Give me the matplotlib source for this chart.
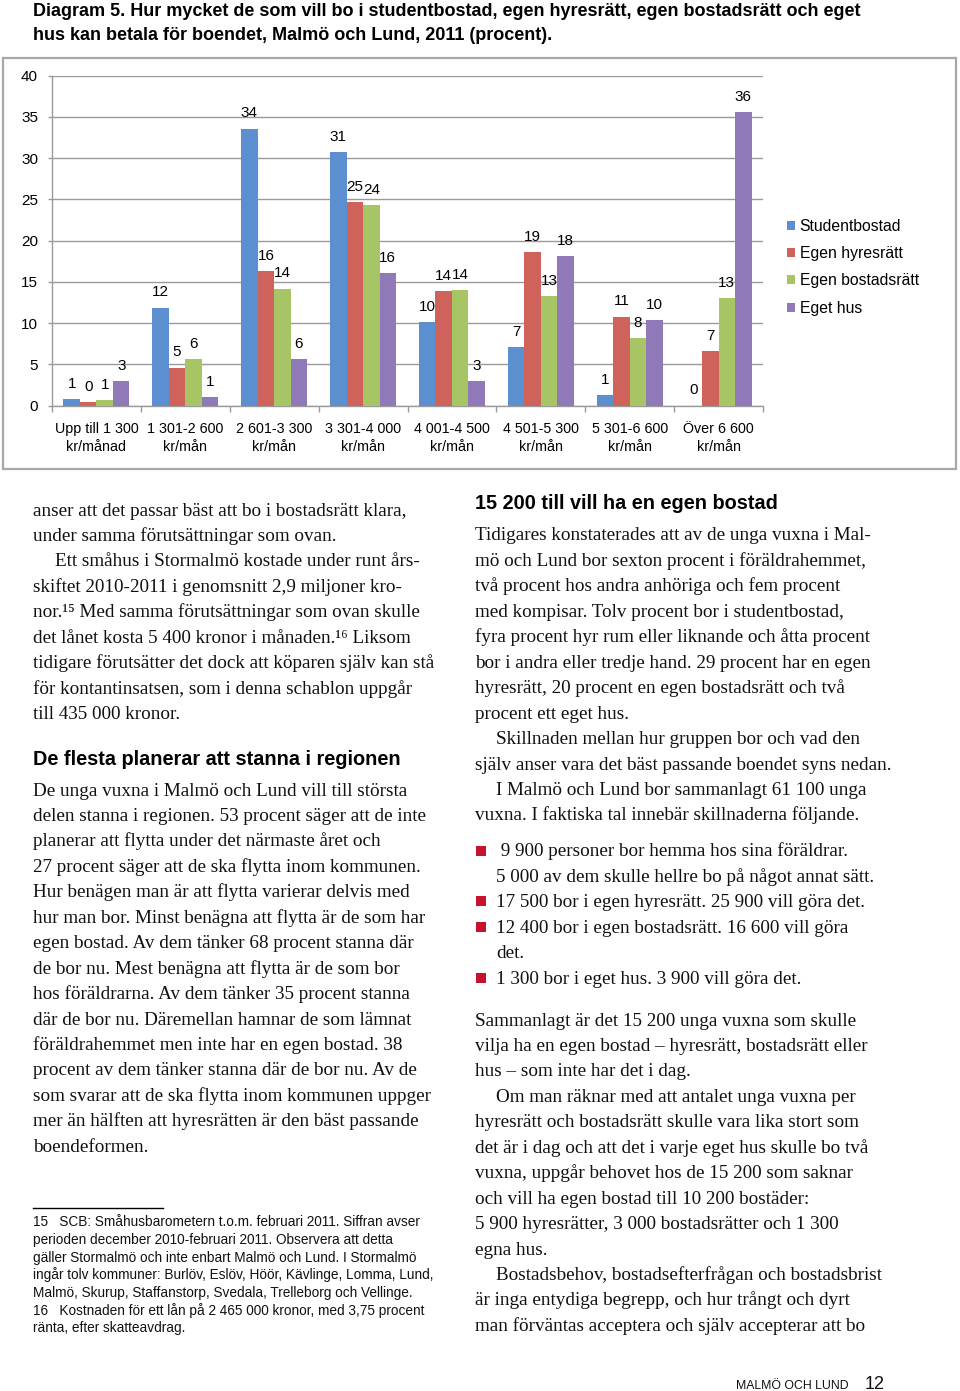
import matplotlib
matplotlib.use("Agg")
import matplotlib.pyplot as plt
from matplotlib.patches import Rectangle, Patch
from matplotlib.lines import Line2D
import numpy as np

# ---------------- data ----------------
categories = ['Upp till 1 300\nkr/månad', '1 301-2 600\nkr/mån', '2 601-3 300\nkr/mån',
              '3 301-4 000\nkr/mån', '4 001-4 500\nkr/mån', '4 501-5 300\nkr/mån',
              '5 301-6 600\nkr/mån', 'Över 6 600\nkr/mån']
series_names = ['Studentbostad', 'Egen hyresrätt', 'Egen bostadsrätt', 'Eget hus']
studentbostad = [0.8, 11.9, 33.6, 30.7, 10.1, 7.1, 1.3, 0.0]
egen_hyresratt = [0.4, 4.6, 16.3, 24.7, 13.9, 18.6, 10.8, 6.6]
egen_bostadsratt = [0.7, 5.6, 14.2, 24.3, 14.0, 13.3, 8.2, 13.0]
eget_hus = [3.0, 1.0, 5.6, 16.1, 3.0, 18.1, 10.4, 35.6]
y_ticks = [0, 5, 10, 15, 20, 25, 30, 35, 40]

title_lines = ["Diagram 5. Hur mycket de som vill bo i studentbostad, egen hyresrätt, egen bostadsrätt och eget",
               "hus kan betala för boendet, Malmö och Lund, 2011 (procent)."]

left_col_a = ["anser att det passar bäst att bo i bostadsrätt klara,",
              "under samma förutsättningar som ovan.",
              "Ett småhus i Stormalmö kostade under runt års-",
              "skiftet 2010-2011 i genomsnitt 2,9 miljoner kro-",
              "nor.¹⁵ Med samma förutsättningar som ovan skulle",
              "det lånet kosta 5 400 kronor i månaden.¹⁶ Liksom",
              "tidigare förutsätter det dock att köparen själv kan stå",
              "för kontantinsatsen, som i denna schablon uppgår",
              "till 435 000 kronor."]
left_heading = "De flesta planerar att stanna i regionen"
left_col_b = ["De unga vuxna i Malmö och Lund vill till största",
              "delen stanna i regionen. 53 procent säger att de inte",
              "planerar att flytta under det närmaste året och",
              "27 procent säger att de ska flytta inom kommunen.",
              "Hur benägen man är att flytta varierar delvis med",
              "hur man bor. Minst benägna att flytta är de som har",
              "egen bostad. Av dem tänker 68 procent stanna där",
              "de bor nu. Mest benägna att flytta är de som bor",
              "hos föräldrarna. Av dem tänker 35 procent stanna",
              "där de bor nu. Däremellan hamnar de som lämnat",
              "föräldrahemmet men inte har en egen bostad. 38",
              "procent av dem tänker stanna där de bor nu. Av de",
              "som svarar att de ska flytta inom kommunen uppger",
              "mer än hälften att hyresrätten är den bäst passande",
              "boendeformen."]
footnotes = ["15   SCB: Småhusbarometern t.o.m. februari 2011. Siffran avser",
             "perioden december 2010-februari 2011. Observera att detta",
             "gäller Stormalmö och inte enbart Malmö och Lund. I Stormalmö",
             "ingår tolv kommuner: Burlöv, Eslöv, Höör, Kävlinge, Lomma, Lund,",
             "Malmö, Skurup, Staffanstorp, Svedala, Trelleborg och Vellinge.",
             "16   Kostnaden för ett lån på 2 465 000 kronor, med 3,75 procent",
             "ränta, efter skatteavdrag."]
right_heading = "15 200 till vill ha en egen bostad"
right_col_a = ["Tidigares konstaterades att av de unga vuxna i Mal-",
               "mö och Lund bor sexton procent i föräldrahemmet,",
               "två procent hos andra anhöriga och fem procent",
               "med kompisar. Tolv procent bor i studentbostad,",
               "fyra procent hyr rum eller liknande och åtta procent",
               "bor i andra eller tredje hand. 29 procent har en egen",
               "hyresrätt, 20 procent en egen bostadsrätt och två",
               "procent ett eget hus.",
               "Skillnaden mellan hur gruppen bor och vad den",
               "själv anser vara det bäst passande boendet syns nedan.",
               "I Malmö och Lund bor sammanlagt 61 100 unga",
               "vuxna. I faktiska tal innebär skillnaderna följande."]
right_indent_a = [8, 10]
bullet_lines = [" 9 900 personer bor hemma hos sina föräldrar.",
                "5 000 av dem skulle hellre bo på något annat sätt.",
                "17 500 bor i egen hyresrätt. 25 900 vill göra det.",
                "12 400 bor i egen bostadsrätt. 16 600 vill göra",
                "det.",
                "1 300 bor i eget hus. 3 900 vill göra det."]
bullet_marks = [0, 2, 3, 5]
right_col_b = ["Sammanlagt är det 15 200 unga vuxna som skulle",
               "vilja ha en egen bostad – hyresrätt, bostadsrätt eller",
               "hus – som inte har det i dag.",
               "Om man räknar med att antalet unga vuxna per",
               "hyresrätt och bostadsrätt skulle vara lika stort som",
               "det är i dag och att det i varje eget hus skulle bo två",
               "vuxna, uppgår behovet hos de 15 200 som saknar",
               "och vill ha egen bostad till 10 200 bostäder:",
               "5 900 hyresrätter, 3 000 bostadsrätter och 1 300",
               "egna hus.",
               "Bostadsbehov, bostadsefterfrågan och bostadsbrist",
               "är inga entydiga begrepp, och hur trångt och dyrt",
               "man förväntas acceptera och själv accepterar att bo"]
right_indent_b = [3, 10]
footer_text = "MALMÖ OCH LUND"
page_number = "12"

# ---------------- figure ----------------
W, H = 960, 1391
fig = plt.figure(figsize=(W / 100, H / 100), dpi=100)
fig.patch.set_facecolor('white')

SANS = ['Liberation Sans', 'DejaVu Sans']
SERIF = ['Liberation Serif', 'DejaVu Serif']

def T(x, y, s, **kw):
    kw.setdefault('va', 'baseline')
    kw.setdefault('ha', 'left')
    return fig.text(x / W, 1 - y / H, s, **kw)

# title
for i, line in enumerate(title_lines):
    T(33, 16 + 24 * i, line, family=SANS, fontsize=13, fontweight='bold', color='black')

# chart frame
fig.patches.append(Rectangle((3 / W, 1 - 469 / H), (956 - 3) / W, (469 - 58) / H,
                             transform=fig.transFigure, fill=False,
                             edgecolor='#a8a8a8', linewidth=1.6))

# axes
ax_l, ax_r, ax_b, ax_t = 52, 763, 405.7, 75.7
ax = fig.add_axes([ax_l / W, 1 - ax_b / H, (ax_r - ax_l) / W, (ax_b - ax_t) / H])
ax.set_facecolor('none')

colors = ['#5b8fcf', '#cf625b', '#a7c565', '#9079b9']
all_series = [studentbostad, egen_hyresratt, egen_bostadsratt, eget_hus]
x = np.arange(len(categories))
bw = 0.186
for k, (vals, col, name) in enumerate(zip(all_series, colors, series_names)):
    pos = x + (k - 1.5) * bw
    ax.bar(pos, vals, width=bw, color=col, label=name, zorder=3)
    for px, v in zip(pos, vals):
        ax.annotate(str(int(v + 0.5)), (px, v), xytext=(0, 11), textcoords='offset points',
                    ha='center', va='center', fontsize=11, family=SANS, color='black', zorder=4)

ax.set_xlim(-0.5, len(categories) - 0.5)
ax.set_ylim(0, 40)
ax.set_yticks(y_ticks)
ax.set_yticklabels([str(t) for t in y_ticks], family=SANS, fontsize=11)
ax.yaxis.grid(True, color='#9a9a9a', linewidth=1.0, zorder=0)
ax.set_axisbelow(True)
ax.tick_params(axis='y', length=3, width=1.0, color='#9a9a9a', pad=7, labelcolor='black')

ax.set_xticks(x)
ax.set_xticklabels(categories, family=SANS, fontsize=10.3, linespacing=1.4)
ax.set_xticks(np.arange(-0.5, len(categories)), minor=True)
ax.tick_params(axis='x', which='major', length=0, pad=11.5)
ax.tick_params(axis='x', which='minor', length=4, width=1.0, color='#9a9a9a')
for s in ['top', 'right']:
    ax.spines[s].set_visible(False)
for s in ['left', 'bottom']:
    ax.spines[s].set_color('#9a9a9a')
    ax.spines[s].set_linewidth(1.0)

# legend
handles = [Patch(facecolor=c, edgecolor='none') for c in colors]
leg = fig.legend(handles, series_names, loc='upper left',
                 bbox_to_anchor=(787 / W, 1 - 219 / H), frameon=False,
                 prop={'family': SANS, 'size': 11.3}, handlelength=0.5, handleheight=0.5,
                 handletextpad=0.3, labelspacing=0.78, borderpad=0, borderaxespad=0)

# ---------------- text columns ----------------
BODY = 13.75
HEAD = 14.3
LS = 25.45
LX, RX = 33, 475

for i, line in enumerate(left_col_a):
    xi = LX + (22 if i == 2 else 0)
    T(xi, 515.5 + LS * i, line, family=SERIF, fontsize=BODY, color='#111111')

T(LX, 765, left_heading, family=SANS, fontsize=HEAD, fontweight='bold', color='black')
for i, line in enumerate(left_col_b):
    T(LX, 795.5 + LS * i, line, family=SERIF, fontsize=BODY, color='#111111')

fig.add_artist(Line2D([33 / W, 163 / W], [1 - 1208 / H, 1 - 1208 / H],
                      transform=fig.transFigure, color='black', linewidth=1.0))
for i, line in enumerate(footnotes):
    T(LX, 1226.5 + 17.6 * i, line, family=SANS, fontsize=9.8, color='#111111')

T(RX, 509, right_heading, family=SANS, fontsize=HEAD, fontweight='bold', color='black')
for i, line in enumerate(right_col_a):
    xi = RX + (21 if i in right_indent_a else 0)
    T(xi, 540.5 + LS * i, line, family=SERIF, fontsize=BODY, color='#111111')

for i, line in enumerate(bullet_lines):
    y = 856.5 + LS * i
    T(496, y, line, family=SERIF, fontsize=BODY, color='#111111')
    if i in bullet_marks:
        fig.patches.append(Rectangle((476 / W, 1 - (y - 1) / H), 10 / W, 10 / H,
                                     transform=fig.transFigure, facecolor='#c4122f',
                                     edgecolor='none'))

for i, line in enumerate(right_col_b):
    xi = RX + (21 if i in right_indent_b else 0)
    T(xi, 1025.5 + LS * i, line, family=SERIF, fontsize=BODY, color='#111111')

T(849, 1389, footer_text, family=SANS, fontsize=8.8, color='#111111', ha='right')
T(865, 1389, page_number, family=SANS, fontsize=13, color='#111111')

fig.savefig('out.png', dpi=100, facecolor='white')
